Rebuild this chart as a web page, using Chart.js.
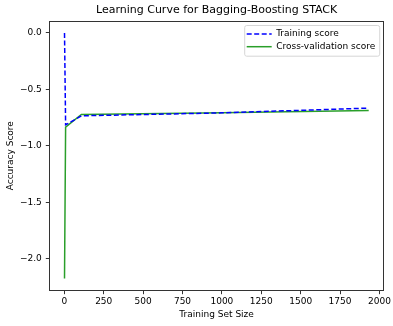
<!DOCTYPE html>
<html>
<head>
<meta charset="utf-8">
<style>
  html, body { margin: 0; padding: 0; background: #fff; }
  #curve { display: block; }
</style>
<script src="https://cdn.jsdelivr.net/npm/chart.js@4/dist/chart.umd.min.js"></script>
</head>
<body>
<canvas id="curve" width="393" height="326"></canvas>
<script>
const trainSizes = [1, 8, 108, 1000, 1932];
const trainScores = [0.0, -0.814, -0.734, -0.708, -0.666];
const cvScores = [-2.175, -0.834, -0.722, -0.706, -0.686];

const xTicks = [0, 250, 500, 750, 1000, 1250, 1500, 1750, 2000];
const yTicks = [0.0, -0.5, -1.0, -1.5, -2.0];

const FONT = "'DejaVu Sans', sans-serif";
const AXIS_COLOR = "#333";

// matplotlib-style 5% margins around the data
const padRange = (values) => {
  const lo = Math.min(...values);
  const hi = Math.max(...values);
  const pad = (hi - lo) * 0.05;
  return { min: lo - pad, max: hi + pad };
};

const xRange = padRange(trainSizes);
const yRange = padRange(trainScores.concat(cvScores));

const toPoints = (ys) => trainSizes.map((x, i) => ({ x, y: ys[i] }));
const minus = (text) => String(text).replace("-", "\u2212");

// full box around the plot area, drawn over the lines
const frame = {
  id: "frame",
  afterDatasetsDraw(chart) {
    const { ctx, chartArea: a } = chart;
    ctx.save();
    ctx.strokeStyle = AXIS_COLOR;
    ctx.lineWidth = 1;
    ctx.strokeRect(Math.round(a.left) + 0.5, Math.round(a.top) + 0.5,
      Math.round(a.right - a.left) - 1, Math.round(a.bottom - a.top) - 1);
    ctx.restore();
  }
};

// legend in the upper right corner of the plot area
const cornerLegend = {
  id: "cornerLegend",
  afterDraw(chart) {
    const { ctx, chartArea: a } = chart;
    const sets = chart.data.datasets;
    ctx.save();
    ctx.font = "9px " + FONT;
    const textW = Math.max(...sets.map(d => ctx.measureText(d.label).width));
    const handle = 25, gap = 4.5, inner = 2.5, rowH = 12.7;
    const w = inner + handle + gap + textW + 4;
    const h = sets.length * rowH + 5.3;
    const x = a.right - 4.7 - w;
    const y = a.top + 4.3;

    ctx.fillStyle = "rgba(255,255,255,0.8)";
    ctx.strokeStyle = "#d6d6d6";
    ctx.lineWidth = 1;
    ctx.beginPath();
    ctx.roundRect(x + 0.5, y + 0.5, w, h, 2);
    ctx.fill();
    ctx.stroke();

    sets.forEach((d, i) => {
      const cy = y + 9 + i * rowH;
      ctx.strokeStyle = d.borderColor;
      ctx.lineWidth = d.borderWidth;
      ctx.setLineDash(d.borderDash || []);
      ctx.beginPath();
      ctx.moveTo(x + inner, cy);
      ctx.lineTo(x + inner + handle, cy);
      ctx.stroke();
      ctx.setLineDash([]);
      ctx.fillStyle = "#000";
      ctx.textBaseline = "middle";
      ctx.fillText(d.label, x + inner + handle + gap, cy);
    });
    ctx.restore();
  }
};

const tickStyle = {
  grid: {
    display: true,
    drawOnChartArea: false,
    drawTicks: true,
    tickLength: 3.5,
    tickWidth: 1,
    color: AXIS_COLOR
  },
  border: { display: false }
};

new Chart(document.getElementById("curve"), {
  type: "line",
  data: {
    datasets: [{
      label: "Training score",
      data: toPoints(trainScores),
      borderColor: "#0000ff",
      borderWidth: 1.5,
      borderDash: [5, 2.5],
      pointRadius: 0,
      tension: 0,
      fill: false
    }, {
      label: "Cross-validation score",
      data: toPoints(cvScores),
      borderColor: "#2a9f2a",
      borderWidth: 1.5,
      pointRadius: 0,
      tension: 0,
      fill: false
    }]
  },
  options: {
    responsive: false,
    devicePixelRatio: 1,
    animation: false,
    layout: { padding: { top: 0, right: 9, bottom: 0, left: 0 } },
    plugins: {
      legend: { display: false },
      tooltip: { enabled: false },
      title: {
        display: true,
        fullSize: false,
        text: "Learning Curve for Bagging-Boosting STACK",
        color: "#000",
        font: { family: FONT, size: 11, weight: "normal" },
        padding: { top: 4, bottom: 3.5 }
      }
    },
    scales: {
      x: {
        type: "linear",
        min: xRange.min,
        max: xRange.max,
        ...tickStyle,
        afterBuildTicks: s => { s.ticks = xTicks.map(v => ({ value: v })); },
        afterFit: s => { s.height = 35.3; },
        ticks: {
          color: "#000",
          font: { family: FONT, size: 9 },
          padding: 2,
          maxRotation: 0,
          autoSkip: false,
          callback: v => String(v)
        },
        title: {
          display: true,
          text: "Training Set Size",
          color: "#000",
          font: { family: FONT, size: 9 },
          padding: { top: 0, bottom: 5.5 }
        }
      },
      y: {
        type: "linear",
        min: yRange.min,
        max: yRange.max,
        ...tickStyle,
        afterBuildTicks: s => { s.ticks = yTicks.map(v => ({ value: v })); },
        afterFit: s => { s.width = 49.3; },
        ticks: {
          color: "#000",
          font: { family: FONT, size: 9 },
          padding: 4,
          autoSkip: false,
          callback: v => minus(v.toFixed(1))
        },
        title: {
          display: true,
          text: "Accuracy Score",
          color: "#000",
          font: { family: FONT, size: 9 },
          padding: { top: 5.5, bottom: 0 }
        }
      }
    }
  },
  plugins: [frame, cornerLegend]
});
</script>
</body>
</html>
